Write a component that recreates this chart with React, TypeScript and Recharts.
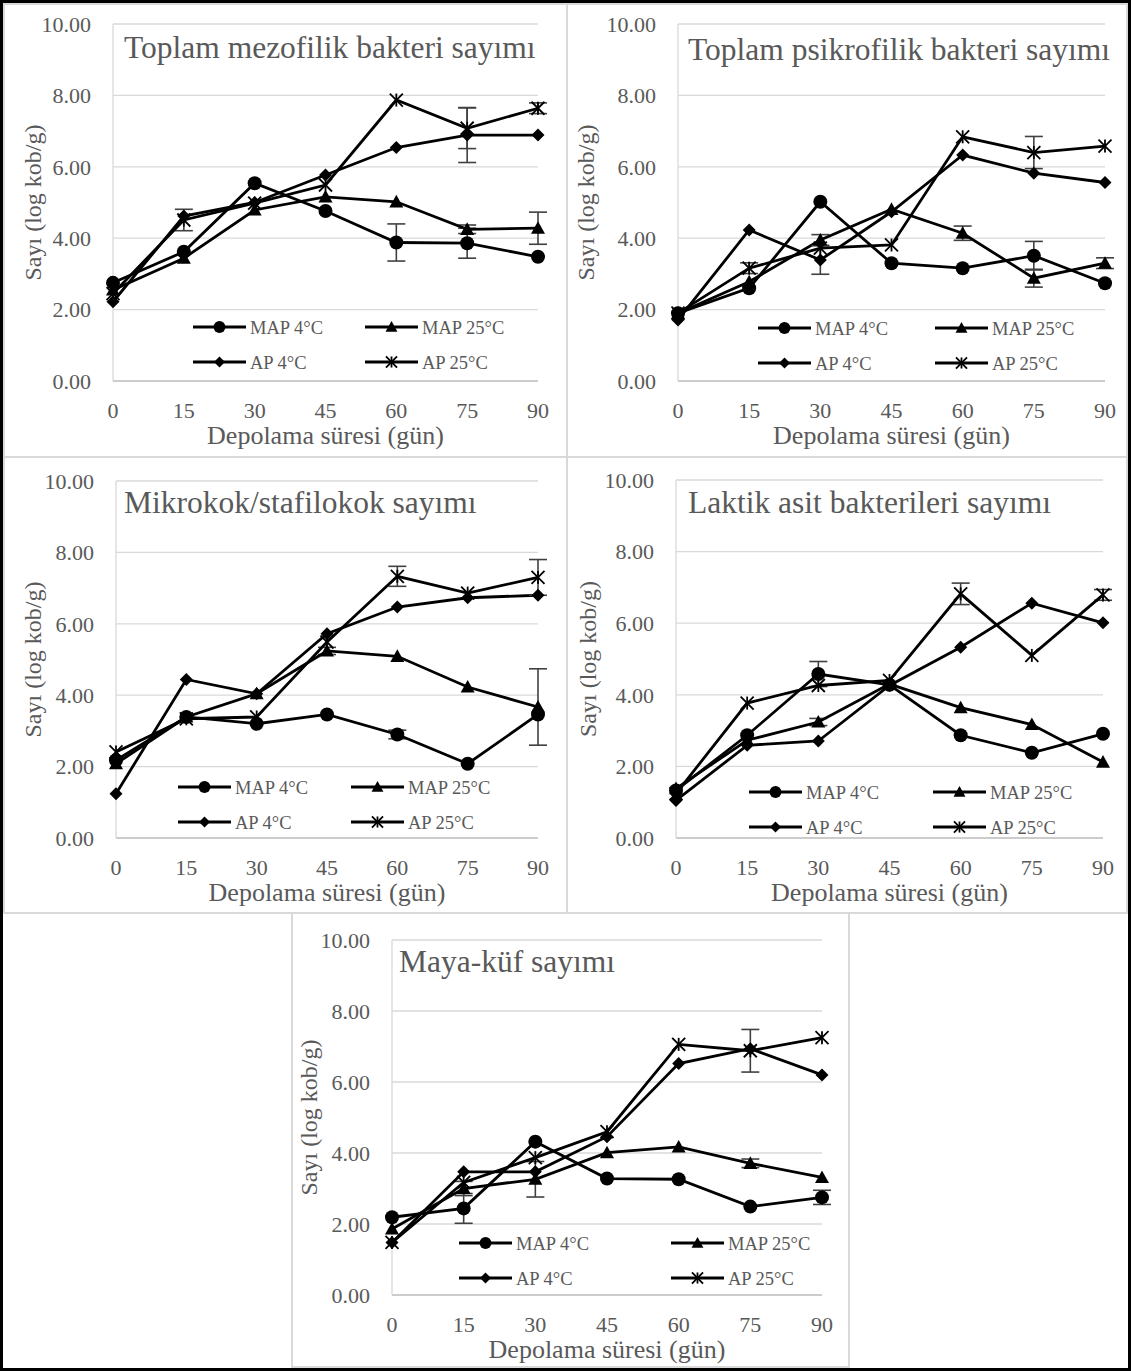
import React from "react";
import { CartesianGrid, ErrorBar, Line, LineChart, XAxis, YAxis } from "recharts";

const DAYS = [0, 15, 30, 45, 60, 75, 90];
const Y_TICKS = [0, 2, 4, 6, 8, 10];
const LEGEND_NAMES = ["MAP 4°C", "MAP 25°C", "AP 4°C", "AP 25°C"];
const X_TITLE = "Depolama süresi (gün)";
const Y_TITLE = "Sayı (log kob/g)";

const TEXT = "#595959";
const GRID = "#d9d9d9";
const FONT = "'Liberation Serif', 'Times New Roman', serif";

// Toplam mezofilik bakteri sayımı
const MEZ_MAP4 = [2.75, 3.62, 5.54, 4.76, 3.88, 3.86, 3.48];
const MEZ_MAP25 = [2.55, 3.44, 4.79, 5.16, 5.02, 4.25, 4.28];
const MEZ_AP4 = [2.22, 4.62, 5.0, 5.77, 6.54, 6.89, 6.89];
const MEZ_AP25 = [2.45, 4.51, 4.98, 5.49, 7.87, 7.08, 7.64];
const MEZ_MAP4_SD = [0, 0, 0, 0, 0.52, 0.42, 0];
const MEZ_MAP25_SD = [0, 0, 0, 0, 0, 0.12, 0.45];
const MEZ_AP4_SD = [0, 0, 0, 0, 0, 0.77, 0];
const MEZ_AP25_SD = [0, 0.3, 0, 0, 0, 0.57, 0.15];

// Toplam psikrofilik bakteri sayımı
const PSI_MAP4 = [1.9, 2.6, 5.02, 3.3, 3.16, 3.51, 2.74];
const PSI_MAP25 = [1.9, 2.78, 3.95, 4.81, 4.14, 2.88, 3.3];
const PSI_AP4 = [1.71, 4.23, 3.39, 4.74, 6.33, 5.82, 5.56];
const PSI_AP25 = [1.9, 3.16, 3.72, 3.81, 6.84, 6.4, 6.58];
const PSI_MAP4_SD = [0, 0, 0, 0, 0, 0.4, 0];
const PSI_MAP25_SD = [0, 0, 0.15, 0, 0.2, 0.25, 0.15];
const PSI_AP4_SD = [0, 0, 0.4, 0, 0, 0, 0];
const PSI_AP25_SD = [0, 0.15, 0, 0, 0, 0.45, 0];

// Mikrokok/stafilokok sayımı
const MIK_MAP4 = [2.18, 3.39, 3.2, 3.46, 2.9, 2.08, 3.46];
const MIK_MAP25 = [2.08, 3.39, 4.04, 5.24, 5.09, 4.23, 3.67];
const MIK_AP4 = [1.24, 4.44, 4.04, 5.72, 6.47, 6.73, 6.8];
const MIK_AP25 = [2.41, 3.34, 3.39, 5.49, 7.33, 6.86, 7.3];
const MIK_MAP4_SD = [0, 0, 0, 0, 0.12, 0, 0];
const MIK_MAP25_SD = [0, 0, 0, 0.1, 0, 0, 1.07];
const MIK_AP4_SD = [0, 0, 0, 0, 0, 0, 0];
const MIK_AP25_SD = [0, 0, 0, 0, 0.28, 0, 0.5];

// Laktik asit bakterileri sayımı
const LAK_MAP4 = [1.33, 2.87, 4.58, 4.28, 2.87, 2.38, 2.91];
const LAK_MAP25 = [1.38, 2.73, 3.24, 4.3, 3.64, 3.17, 2.12];
const LAK_AP4 = [1.05, 2.59, 2.71, 4.26, 5.33, 6.56, 6.01];
const LAK_AP25 = [1.24, 3.77, 4.26, 4.4, 6.82, 5.1, 6.79];
const LAK_MAP4_SD = [0, 0, 0.35, 0, 0, 0, 0];
const LAK_MAP25_SD = [0, 0, 0.1, 0, 0, 0, 0];
const LAK_AP4_SD = [0, 0, 0, 0, 0, 0, 0];
const LAK_AP25_SD = [0, 0, 0, 0, 0.3, 0, 0.15];

// Maya-küf sayımı
const MAY_MAP4 = [2.19, 2.44, 4.32, 3.28, 3.26, 2.49, 2.75];
const MAY_MAP25 = [1.86, 3.0, 3.26, 4.01, 4.17, 3.71, 3.31];
const MAY_AP4 = [1.48, 3.47, 3.47, 4.46, 6.52, 6.94, 6.2];
const MAY_AP25 = [1.48, 3.17, 3.87, 4.6, 7.06, 6.88, 7.25];
const MAY_MAP4_SD = [0, 0.42, 0, 0, 0, 0, 0.2];
const MAY_MAP25_SD = [0, 0.2, 0.5, 0, 0, 0.12, 0];
const MAY_AP4_SD = [0, 0, 0, 0, 0, 0, 0];
const MAY_AP25_SD = [0, 0, 0, 0, 0, 0.6, 0];

const KINDS = ["circle", "triangle", "diamond", "star"];
const KEYS = ["m4", "m25", "a4", "a25"];

// box: [left, top, width, height]; plot: [left, right, top, bottom] (page px)
const PANELS = [
  {
    title: "Toplam mezofilik bakteri sayımı",
    box: [3, 3, 565, 455], plot: [113, 538, 24, 381],
    titleAt: [124, 58], yTitleX: 41, legend: [80, 252, 327],
    series: [MEZ_MAP4, MEZ_MAP25, MEZ_AP4, MEZ_AP25],
    sd: [MEZ_MAP4_SD, MEZ_MAP25_SD, MEZ_AP4_SD, MEZ_AP25_SD],
  },
  {
    title: "Toplam psikrofilik bakteri sayımı",
    box: [566, 3, 562, 455], plot: [678, 1105, 24, 381],
    titleAt: [688, 60], yTitleX: 594, legend: [80, 257, 328],
    series: [PSI_MAP4, PSI_MAP25, PSI_AP4, PSI_AP25],
    sd: [PSI_MAP4_SD, PSI_MAP25_SD, PSI_AP4_SD, PSI_AP25_SD],
  },
  {
    title: "Mikrokok/stafilokok sayımı",
    box: [3, 456, 565, 458], plot: [116, 538, 481, 838],
    titleAt: [124, 513], yTitleX: 41, legend: [62, 235, 787],
    series: [MIK_MAP4, MIK_MAP25, MIK_AP4, MIK_AP25],
    sd: [MIK_MAP4_SD, MIK_MAP25_SD, MIK_AP4_SD, MIK_AP25_SD],
  },
  {
    title: "Laktik asit bakterileri sayımı",
    box: [566, 456, 562, 458], plot: [676, 1103, 480, 838],
    titleAt: [688, 513], yTitleX: 596, legend: [73, 257, 792],
    series: [LAK_MAP4, LAK_MAP25, LAK_AP4, LAK_AP25],
    sd: [LAK_MAP4_SD, LAK_MAP25_SD, LAK_AP4_SD, LAK_AP25_SD],
  },
  {
    title: "Maya-küf sayımı",
    box: [291, 912, 559, 456], plot: [392, 822, 940, 1295],
    titleAt: [399, 972], yTitleX: 317, legend: [67, 279, 1243],
    series: [MAY_MAP4, MAY_MAP25, MAY_AP4, MAY_AP25],
    sd: [MAY_MAP4_SD, MAY_MAP25_SD, MAY_AP4_SD, MAY_AP25_SD],
  },
];

function Marker({ kind, cx, cy, s = 1 }: any) {
  if (cx == null || cy == null) return null;
  if (kind === "circle") return <circle cx={cx} cy={cy} r={7 * s} fill="#000" />;
  if (kind === "triangle") {
    const h = 7 * s;
    return (
      <polygon
        points={`${cx},${cy - h} ${cx + h},${cy + h * 0.8} ${cx - h},${cy + h * 0.8}`}
        fill="#000"
      />
    );
  }
  if (kind === "diamond") {
    const d = 6.5 * s;
    return (
      <polygon
        points={`${cx},${cy - d} ${cx + d},${cy} ${cx},${cy + d} ${cx - d},${cy}`}
        fill="#000"
      />
    );
  }
  const r = 6.5 * s;
  return (
    <g stroke="#000" strokeWidth={1.8}>
      <line x1={cx} y1={cy - r} x2={cx} y2={cy + r} />
      <line x1={cx - r} y1={cy - r} x2={cx + r} y2={cy + r} />
      <line x1={cx - r} y1={cy + r} x2={cx + r} y2={cy - r} />
    </g>
  );
}

function AxisTitle({ tx, ty, rot, text }: any) {
  return (
    <text
      x={tx}
      y={ty}
      fill={TEXT}
      fontFamily={FONT}
      fontSize={rot ? 24 : 26}
      textAnchor="middle"
      transform={rot ? `rotate(-90 ${tx} ${ty})` : undefined}
    >
      {text}
    </text>
  );
}

function Panel({ p }: any) {
  const [bl, bt, bw, bh] = p.box;
  const [pl, pr, pt, pb] = p.plot;
  const rows = DAYS.map((day, i) => {
    const row: Record<string, number> = { day };
    KEYS.forEach((k, j) => {
      row[k] = p.series[j][i];
      row[k + "e"] = p.sd[j][i];
    });
    return row;
  });

  return (
    <div style={{ position: "absolute", left: bl, top: bt, width: bw, height: bh }}>
      <LineChart
        width={bw}
        height={bh}
        data={rows}
        margin={{ top: pt - bt, right: bl + bw - pr, bottom: 0, left: 0 }}
      >
        <CartesianGrid vertical={false} stroke={GRID} strokeWidth={1.3} />
        <XAxis
          dataKey="day"
          type="number"
          domain={[0, 90]}
          ticks={DAYS}
          interval={0}
          height={bt + bh - pb}
          tickLine={false}
          tickSize={0}
          tickMargin={21}
          axisLine={{ stroke: "#c4c4c4", strokeWidth: 1.5 }}
          tick={{ fill: TEXT, fontSize: 22, fontFamily: FONT }}
          label={
            <AxisTitle tx={(pl + pr) / 2 - bl} ty={pb + 63 - bt} text={X_TITLE} />
          }
        />
        <YAxis
          type="number"
          domain={[0, 10]}
          ticks={Y_TICKS}
          interval={0}
          width={pl - bl}
          tickLine={false}
          tickSize={0}
          tickMargin={22}
          tickFormatter={(v: number) => v.toFixed(2)}
          axisLine={{ stroke: GRID, strokeWidth: 1.3 }}
          tick={{ fill: TEXT, fontSize: 22, fontFamily: FONT }}
          label={
            <AxisTitle
              tx={p.yTitleX - bl}
              ty={(pt + pb) / 2 - bt}
              rot
              text={Y_TITLE}
            />
          }
        />
        {KEYS.map((k, j) => (
          <Line
            key={k}
            dataKey={k}
            name={LEGEND_NAMES[j]}
            type="linear"
            stroke="#000"
            strokeWidth={2.8}
            isAnimationActive={false}
            activeDot={false}
            dot={(d: any) => (
              <Marker key={`${k}-${d.index}`} kind={KINDS[j]} cx={d.cx} cy={d.cy} />
            )}
          >
            <ErrorBar
              dataKey={k + "e"}
              direction="y"
              width={9}
              strokeWidth={1.6}
              stroke="#404040"
              isAnimationActive={false}
            />
          </Line>
        ))}
      </LineChart>
    </div>
  );
}

function Overlay() {
  return (
    <svg
      width={1131}
      height={1371}
      style={{ position: "absolute", left: 0, top: 0, pointerEvents: "none" }}
    >
      {PANELS.map((p, pi) => {
        const [pl] = p.plot;
        const [c1, c2, y1] = p.legend;
        return (
          <g key={pi}>
            <text
              x={p.titleAt[0]}
              y={p.titleAt[1]}
              fill={TEXT}
              fontFamily={FONT}
              fontSize={31.5}
            >
              {p.title}
            </text>
            {LEGEND_NAMES.map((name, j) => {
              const x0 = pl + (j % 2 === 0 ? c1 : c2);
              const y = y1 + (j < 2 ? 0 : 35);
              return (
                <g key={name}>
                  <line x1={x0} y1={y} x2={x0 + 53} y2={y} stroke="#000" strokeWidth={3} />
                  <Marker kind={KINDS[j]} cx={x0 + 26.5} cy={y} s={0.85} />
                  <text
                    x={x0 + 57}
                    y={y + 6.5}
                    fill={TEXT}
                    fontFamily={FONT}
                    fontSize={18.5}
                  >
                    {name}
                  </text>
                </g>
              );
            })}
          </g>
        );
      })}
    </svg>
  );
}

export default function App() {
  return (
    <div
      style={{
        position: "relative",
        width: 1131,
        height: 1371,
        background: "#fff",
        overflow: "hidden",
        fontFamily: FONT,
      }}
    >
      <style>{"body{margin:0}"}</style>
      {PANELS.map((p, i) => (
        <div
          key={"b" + i}
          style={{
            position: "absolute",
            left: p.box[0],
            top: p.box[1],
            width: p.box[2],
            height: p.box[3],
            border: "2px solid #d9d9d9",
            boxSizing: "border-box",
          }}
        />
      ))}
      {PANELS.map((p, i) => (
        <Panel key={i} p={p} />
      ))}
      <Overlay />
      <div
        style={{
          position: "absolute",
          inset: 0,
          border: "3px solid #000",
          boxSizing: "border-box",
        }}
      />
    </div>
  );
}
